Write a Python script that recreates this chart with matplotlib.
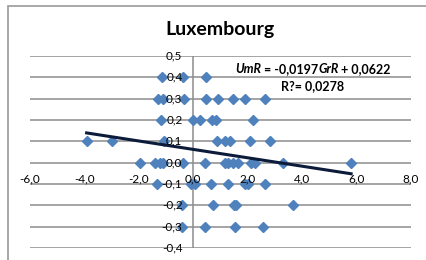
import matplotlib.pyplot as plt
from matplotlib.offsetbox import TextArea, HPacker, AnnotationBbox
from matplotlib.patches import Rectangle

plt.rcParams['font.family'] = ['Lato', 'DejaVu Sans']

# GrR values, grouped by the UmR row they sit on
rows = {
    0.4: [-1.15, -0.36, 0.47],
    0.3: [-1.28, -1.10, -0.33, 0.47, 0.92, 1.46, 1.91, 2.62],
    0.2: [-1.20, 0.00, 0.26, 0.69, 0.85, 2.20],
    0.1: [-3.92, -2.99, -1.09, 0.87, 1.17, 1.34, 2.08, 2.82],
    0.0: [-1.97, -1.39, -1.24, -1.11, -0.36, 0.43, 1.17, 1.29, 1.47,
          1.65, 2.12, 2.25, 3.31, 5.80],
    -0.1: [-1.33, -0.10, 0.07, 0.64, 1.29, 1.91, 2.02, 2.62],
    -0.2: [-0.42, 0.72, 1.50, 1.58, 3.65],
    -0.3: [-0.42, 0.44, 1.54, 2.56],
}
gr = [x for y, xs in rows.items() for x in xs]
um = [y for y, xs in rows.items() for x in xs]

slope, intercept = -0.0197, 0.0622
r2 = 0.0278
xticks = [-6, -4, -2, 0, 2, 4, 6, 8]
yticks = [0.5, 0.4, 0.3, 0.2, 0.1, 0.0, -0.1, -0.2, -0.3, -0.4]

fig = plt.figure(figsize=(4.26, 2.6), dpi=100)
fig.patches.append(Rectangle((8 / 426, -0.1), 1.2, 1.1 - 6 / 260,
                             transform=fig.transFigure, fill=False,
                             ec='#9a9a9a', lw=1.2))
ax = fig.add_axes([30 / 426, 12 / 260, 381 / 426, 192 / 260])

for y in yticks:
    ax.axhline(y, color='#8c8c8c', lw=1.1, zorder=1)
ax.plot([0, 0], [-0.4, 0.5], color='#8c8c8c', lw=1.1, zorder=1)

xl = [min(gr), max(gr)]
ax.plot(xl, [slope * v + intercept for v in xl], color='#0d1b3a', lw=2.2, zorder=3)
ax.plot(gr, um, 'D', ms=4.8, color='#4f81bd', zorder=2, ls='none')

ax.set_xlim(-6, 8)
ax.set_ylim(-0.4, 0.5)
for s in ax.spines.values():
    s.set_visible(False)
ax.set_xticks([])
ax.set_yticks([])

for x in xticks:
    ax.text(x, -0.075, f"{x:.1f}".replace('.', ','), ha='center', va='center',
            fontsize=8.5, zorder=4)
for y in yticks:
    lab = f"{y:.1f}".replace('.', ',')
    if lab == '-0,0':
        lab = '0,0'
    ax.text(-0.4, y, lab, ha='right', va='center', fontsize=8.5, zorder=4)

fig.text(220 / 426, 1 - 29 / 260, 'Luxembourg', ha='center', va='center',
         fontsize=14, fontweight='bold')

parts = [("UmR", 'italic'), (" = -0,0197", 'normal'), ("GrR", 'italic'),
         (" + 0,0622", 'normal')]
boxes = [TextArea(t, textprops=dict(fontsize=9, fontweight='bold', fontstyle=st))
         for t, st in parts]
pack = HPacker(children=boxes, align='baseline', pad=0, sep=0)
ab = AnnotationBbox(pack, (313 / 426, 1 - 69 / 260), xycoords='figure fraction',
                    frameon=False, box_alignment=(0.5, 0.5), pad=0)
fig.add_artist(ab)
fig.text(313 / 426, 1 - 86 / 260, f"R?= {r2:.4f}".replace('.', ','),
         ha='center', va='center', fontsize=9, fontweight='bold')

fig.savefig('out.png', dpi=100)
